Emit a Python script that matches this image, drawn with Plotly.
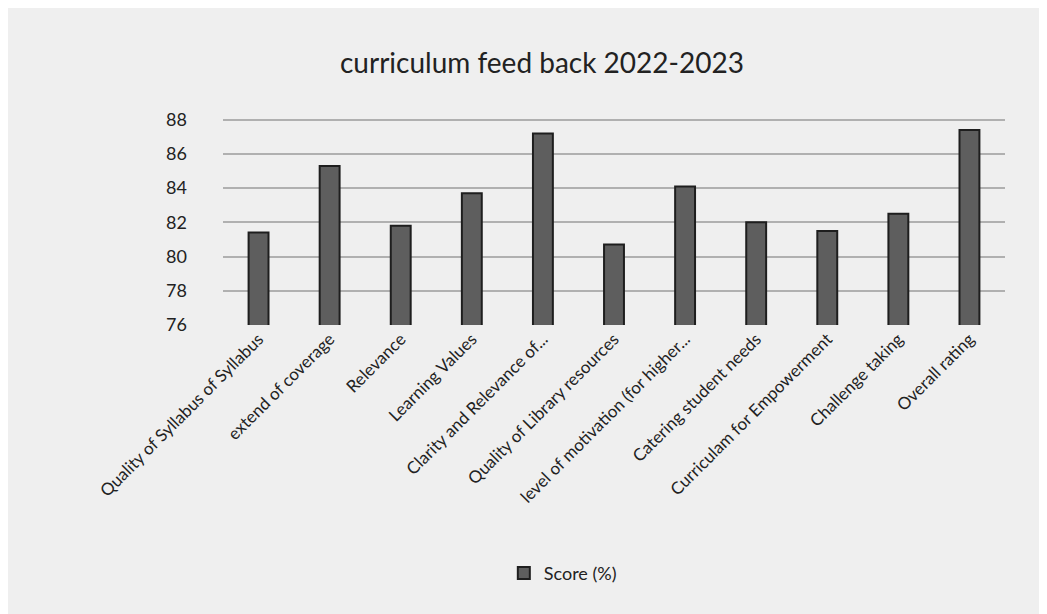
import plotly.graph_objects as go

categories = [
    "Quality of Syllabus of Syllabus",
    "extend of coverage",
    "Relevance",
    "Learning Values",
    "Clarity and Relevance of...",
    "Quality of Library resources",
    "level of motivation (for higher...",
    "Catering student needs",
    "Curriculam for Empowerment",
    "Challenge taking",
    "Overall rating",
]
scores = [81.4, 85.3, 81.8, 83.7, 87.2, 80.7, 84.1, 82.0, 81.5, 82.5, 87.4]
y_ticks = [76, 78, 80, 82, 84, 86, 88]

FONT = "Lato, 'Open Sans', sans-serif"

fig = go.Figure()
fig.add_trace(go.Bar(
    x=categories, y=scores, name="Score (%)",
    marker=dict(color="#5e5e5e", line=dict(color="#1e1e1e", width=2)),
    width=0.28,
))

fig.update_layout(
    width=1047, height=614,
    paper_bgcolor="#efefef", plot_bgcolor="#efefef",
    font=dict(family=FONT, color="#222222"),
    title=dict(text="curriculum feed back 2022-2023", x=0.51, xanchor="center",
               y=0.91, yanchor="middle", font=dict(size=28, family=FONT, color="#222222")),
    margin=dict(l=215, r=50, t=110, b=297),
    showlegend=True,
    legend=dict(orientation="h", x=0.51, xanchor="right", y=-1.2, yanchor="middle",
                font=dict(size=18, family=FONT)),
)
fig.update_xaxes(tickangle=-45, tickfont=dict(size=17, family=FONT), showgrid=False,
                 showline=False, ticks="")
fig.update_yaxes(range=[76, 88.1], tickvals=y_ticks, tickfont=dict(size=18, family=FONT),
                 showgrid=True, gridcolor="#b0b0b0", gridwidth=1.5, zeroline=False,
                 showline=False, ticklabelstandoff=35)

fig.write_html("out.html")
